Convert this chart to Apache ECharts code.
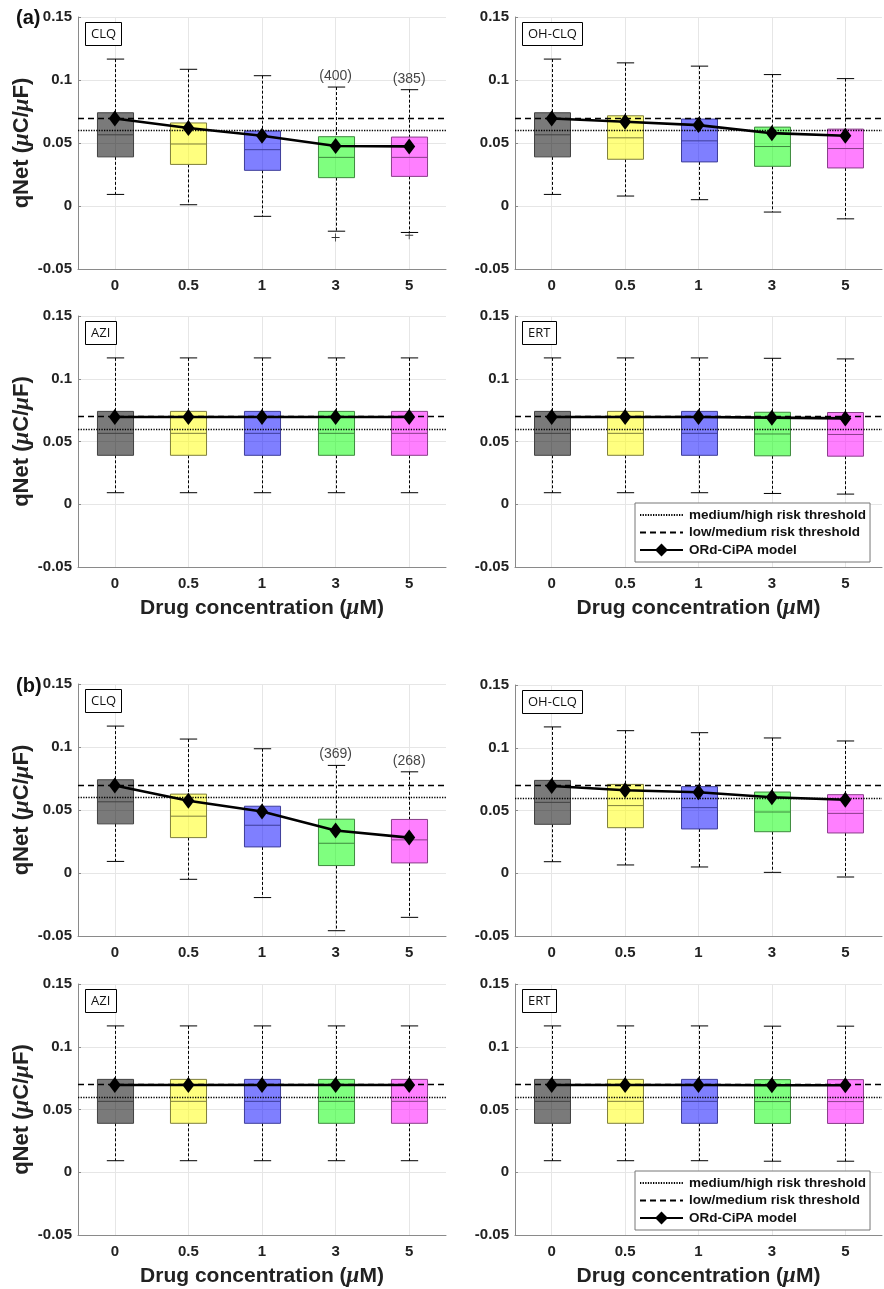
<!DOCTYPE html>
<html>
<head>
<meta charset="utf-8">
<script src="https://cdn.jsdelivr.net/npm/echarts@6/dist/echarts.min.js"></script>
<style>
  html, body { margin: 0; padding: 0; background: #fff; }
  #chart { width: 884px; height: 1289px; }
</style>
</head>
<body>
<div id="chart"></div>
<script>
// Drug concentrations (uM) on the x axis
var concentrations = ['0', '0.5', '1', '3', '5'];

// qNet risk thresholds
var mediumHighThreshold = 0.0581;
var lowMediumThreshold = 0.0689;

// box rows: [lower whisker, Q1, median, Q3, upper whisker]
var control = [0.0092, 0.0390, 0.0565, 0.0740, 0.1166];

var clqA = [control,
    [0.0010, 0.0330, 0.0492, 0.0659, 0.1085],
    [-0.0082, 0.0283, 0.0447, 0.0595, 0.1034],
    [-0.0200, 0.0225, 0.0386, 0.0550, 0.0944],
    [-0.0210, 0.0235, 0.0386, 0.0547, 0.0923]];
var ohclqA = [control,
    [0.0079, 0.0371, 0.0541, 0.0716, 0.1136],
    [0.0050, 0.0350, 0.0517, 0.0690, 0.1110],
    [-0.0048, 0.0315, 0.0472, 0.0626, 0.1043],
    [-0.0102, 0.0302, 0.0456, 0.0610, 0.1011]];
var aziA = [control, control, control, control, control];
var ertA = [control, control, control,
    [0.0086, 0.0386, 0.0560, 0.0733, 0.1163],
    [0.0081, 0.0383, 0.0556, 0.0731, 0.1158]];

var clqB = [control,
    [-0.0050, 0.0281, 0.0451, 0.0626, 0.1063],
    [-0.0195, 0.0207, 0.0379, 0.0530, 0.0986],
    [-0.0458, 0.0059, 0.0236, 0.0427, 0.0854],
    [-0.0352, 0.0080, 0.0263, 0.0425, 0.0803]];
var ohclqB = [control,
    [0.0066, 0.0363, 0.0539, 0.0708, 0.1136],
    [0.0050, 0.0353, 0.0523, 0.0690, 0.1120],
    [0.0007, 0.0331, 0.0488, 0.0647, 0.1078],
    [-0.0030, 0.0321, 0.0477, 0.0626, 0.1054]];
var aziB = [control, control, control, control, control];
var ertB = [control, control, control,
    [0.0088, 0.0389, 0.0563, 0.0738, 0.1164],
    [0.0088, 0.0389, 0.0563, 0.0738, 0.1164]];

// ORd-CiPA model qNet
var clqAModel = [0.0695, 0.0619, 0.0558, 0.0476, 0.0473];
var ohclqAModel = [0.0695, 0.0669, 0.0642, 0.0578, 0.0557];
var aziAModel = [0.0695, 0.0695, 0.0695, 0.0695, 0.0695];
var ertAModel = [0.0695, 0.0695, 0.0695, 0.0690, 0.0684];
var clqBModel = [0.0695, 0.0573, 0.0488, 0.0337, 0.0281];
var ohclqBModel = [0.0695, 0.0661, 0.0645, 0.0605, 0.0586];
var aziBModel = [0.0695, 0.0695, 0.0695, 0.0695, 0.0695];
var ertBModel = [0.0695, 0.0695, 0.0695, 0.0693, 0.0693];

// outliers [concentration index, qNet] and counts written above the whiskers
var clqAOutliers = [[3, -0.0250], [4, -0.0232]];
var clqACounts = ['', '', '', '(400)', '(385)'];
var clqBCounts = ['', '', '', '(369)', '(268)'];

var panelNames = ['CLQ', 'OH-CLQ', 'AZI', 'ERT', 'CLQ', 'OH-CLQ', 'AZI', 'ERT'];
var panelBoxes = [clqA, ohclqA, aziA, ertA, clqB, ohclqB, aziB, ertB];
var panelModel = [clqAModel, ohclqAModel, aziAModel, ertAModel, clqBModel, ohclqBModel, aziBModel, ertBModel];
var panelOutliers = [clqAOutliers, [], [], [], [], [], [], []];
var panelCounts = [clqACounts, null, null, null, clqBCounts, null, null, null];

// layout
var gridBoxes = [
    {left: 78, top: 17, width: 368, height: 252},
    {left: 515, top: 17, width: 367, height: 252},
    {left: 78, top: 316, width: 368, height: 251},
    {left: 515, top: 316, width: 367, height: 251},
    {left: 78, top: 684, width: 368, height: 252},
    {left: 515, top: 685, width: 367, height: 251},
    {left: 78, top: 984, width: 368, height: 252},
    {left: 515, top: 984, width: 367, height: 251}
];
var boxFill = ['rgba(0,0,0,0.52)', 'rgba(255,255,0,0.5)', 'rgba(0,0,255,0.5)', 'rgba(0,255,0,0.5)', 'rgba(255,0,255,0.5)'];
var boxEdge = ['#404040', '#7f7f3c', '#3d3d9a', '#3e8a3e', '#8a3e8a'];
var font = 'Liberation Sans, Arial, sans-serif';

var chart = echarts.init(document.getElementById('chart'));

function renderBox(params, api) {
    var k = api.value(0);
    var lo = api.coord([k, api.value(1)]);
    var q1 = api.coord([k, api.value(2)]);
    var med = api.coord([k, api.value(3)]);
    var q3 = api.coord([k, api.value(4)]);
    var hi = api.coord([k, api.value(5)]);
    var band = api.size([1, 0])[0];
    var half = band * 0.245;
    var cap = band * 0.118;
    var x = Math.round(lo[0]) + 0.5;
    function dash() { return {stroke: '#000', lineWidth: 1, lineDash: [3, 2]}; }
    function solid() { return {stroke: '#000', lineWidth: 1}; }
    return {
        type: 'group',
        children: [
            {type: 'line', shape: {x1: x, y1: hi[1], x2: x, y2: q3[1]}, style: dash()},
            {type: 'line', shape: {x1: x, y1: q1[1], x2: x, y2: lo[1]}, style: dash()},
            {type: 'line', shape: {x1: x - cap, y1: hi[1], x2: x + cap, y2: hi[1]}, style: solid()},
            {type: 'line', shape: {x1: x - cap, y1: lo[1], x2: x + cap, y2: lo[1]}, style: solid()},
            {type: 'rect', shape: {x: x - half, y: q3[1], width: half * 2, height: q1[1] - q3[1]},
                style: {fill: boxFill[k], stroke: boxEdge[k], lineWidth: 1}},
            {type: 'line', shape: {x1: x - half, y1: med[1], x2: x + half, y2: med[1]},
                style: {stroke: boxEdge[k], lineWidth: 1}}
        ]
    };
}

var grids = [], xAxes = [], yAxes = [], series = [], titles = [];

titles.push({text: '(a)', left: 11, top: 3, textStyle: {fontFamily: font, fontSize: 20, fontWeight: 'bold', color: '#111'}});
titles.push({text: '(b)', left: 11, top: 671, textStyle: {fontFamily: font, fontSize: 20, fontWeight: 'bold', color: '#111'}});

var nameRich = {i: {fontFamily: 'Liberation Serif, serif', fontStyle: 'italic', fontSize: 23, color: '#222'}};

panelNames.forEach(function (name, i) {
    var g = gridBoxes[i];
    var isLeft = i % 2 === 0;
    var isBottom = i === 2 || i === 3 || i === 6 || i === 7;
    grids.push({left: g.left, top: g.top, width: g.width, height: g.height, containLabel: false});

    xAxes.push({
        gridIndex: i,
        type: 'category',
        data: concentrations,
        boundaryGap: true,
        name: isBottom ? 'Drug concentration ({i|μ}M)' : '',
        nameLocation: 'middle',
        nameGap: 30,
        nameTextStyle: {fontFamily: font, fontSize: 21, fontWeight: 'bold', color: '#222', rich: nameRich},
        axisLine: {onZero: false, lineStyle: {color: '#8a8a8a', width: 1}},
        axisTick: {show: true, inside: true, alignWithLabel: true, length: 3, lineStyle: {color: '#8a8a8a'}},
        axisLabel: {fontFamily: font, fontSize: 15, fontWeight: 'bold', color: '#222', margin: 9},
        splitLine: {show: false}
    });

    yAxes.push({
        gridIndex: i,
        type: 'value',
        min: -0.05,
        max: 0.15,
        interval: 0.05,
        name: isLeft ? 'qNet ({i|μ}C/{i|μ}F)' : '',
        nameLocation: 'middle',
        nameGap: 42,
        nameTextStyle: {fontFamily: font, fontSize: 22, fontWeight: 'bold', color: '#222', rich: nameRich},
        axisLine: {show: true, onZero: false, lineStyle: {color: '#8a8a8a', width: 1}},
        axisTick: {show: true, inside: true, length: 3, lineStyle: {color: '#8a8a8a'}},
        axisLabel: {
            fontFamily: font, fontSize: 15, fontWeight: 'bold', color: '#222', margin: 6,
            formatter: function (v) { return String(+v.toFixed(2)); }
        },
        splitLine: {show: true, lineStyle: {color: '#e6e6e6', width: 1}}
    });

    titles.push({
        text: name,
        left: g.left + 7,
        top: g.top + 5,
        borderColor: '#000',
        borderWidth: 1,
        backgroundColor: '#fff',
        padding: [6, 6, 5, 6],
        textStyle: {fontFamily: 'Open Sans, sans-serif', fontSize: 13, fontWeight: 'normal', color: '#111'}
    });

    // vertical grid lines at each concentration
    series.push({
        type: 'line', xAxisIndex: i, yAxisIndex: i, data: [], z: 1, silent: true,
        markLine: {
            silent: true, symbol: 'none', animation: false, z: 1,
            label: {show: false},
            lineStyle: {color: '#e6e6e6', width: 1, type: 'solid'},
            data: concentrations.map(function (c, k) { return {xAxis: k}; })
        }
    });

    series.push({
        type: 'custom',
        name: name + ' box',
        xAxisIndex: i, yAxisIndex: i,
        z: 2,
        renderItem: renderBox,
        encode: {x: 0, y: [1, 2, 3, 4, 5]},
        data: panelBoxes[i].map(function (b, k) { return [k].concat(b); })
    });

    if (panelOutliers[i].length) {
        series.push({
            type: 'scatter', xAxisIndex: i, yAxisIndex: i, z: 3,
            symbol: 'path://M0,4.5H10V5.5H0Z M4.5,0H5.5V10H4.5Z',
            symbolSize: 8,
            itemStyle: {color: '#000'},
            data: panelOutliers[i]
        });
    }

    if (panelCounts[i]) {
        var counts = panelCounts[i];
        series.push({
            type: 'scatter', xAxisIndex: i, yAxisIndex: i, z: 3,
            symbolSize: 0,
            label: {
                show: true, position: 'top', distance: 4,
                fontFamily: font, fontSize: 14, color: '#111',
                formatter: function (p) { return counts[p.dataIndex]; }
            },
            data: panelBoxes[i].map(function (b, k) { return [k, b[4]]; })
        });
    }

    series.push({
        type: 'line', name: 'medium/high risk threshold', xAxisIndex: i, yAxisIndex: i, data: [], z: 4,
        symbol: 'none',
        itemStyle: {color: '#000', opacity: 0},
        lineStyle: {color: '#000', width: 1.3, type: [1.3, 1.3]},
        markLine: {
            silent: true, symbol: 'none', animation: false, z: 4, label: {show: false},
            lineStyle: {color: '#000', width: 1.3, type: [1.3, 1.3]},
            data: [{yAxis: mediumHighThreshold}]
        }
    });
    series.push({
        type: 'line', name: 'low/medium risk threshold', xAxisIndex: i, yAxisIndex: i, data: [], z: 4,
        symbol: 'none',
        itemStyle: {color: '#000', opacity: 0},
        lineStyle: {color: '#000', width: 1.4, type: [6, 4]},
        markLine: {
            silent: true, symbol: 'none', animation: false, z: 4, label: {show: false},
            lineStyle: {color: '#000', width: 1.4, type: [6, 4]},
            data: [{yAxis: lowMediumThreshold}]
        }
    });

    series.push({
        type: 'line', name: 'ORd-CiPA model', xAxisIndex: i, yAxisIndex: i, z: 5,
        data: panelModel[i],
        symbol: 'diamond',
        symbolSize: [12, 16],
        showAllSymbol: true,
        itemStyle: {color: '#000'},
        lineStyle: {color: '#000', width: 2.6}
    });
});

function legendAt(top) {
    return {
        orient: 'vertical',
        left: 635,
        top: top,
        data: [
            {name: 'medium/high risk threshold', itemStyle: {opacity: 0}},
            {name: 'low/medium risk threshold', itemStyle: {opacity: 0}},
            {name: 'ORd-CiPA model'}
        ],
        backgroundColor: '#fff',
        borderColor: '#777',
        borderWidth: 1,
        borderRadius: 0,
        padding: [5, 4, 5, 4],
        itemWidth: 43,
        itemHeight: 16,
        itemGap: 3.5,
        selectedMode: false,
        textStyle: {fontFamily: font, fontSize: 13.5, fontWeight: 'bold', color: '#111', padding: [0, 0, 0, 1]}
    };
}

var option = {
    animation: false,
    backgroundColor: '#fff',
    title: titles,
    legend: [legendAt(503), legendAt(1171)],
    grid: grids,
    xAxis: xAxes,
    yAxis: yAxes,
    series: series
};

option && chart.setOption(option);
</script>
</body>
</html>
